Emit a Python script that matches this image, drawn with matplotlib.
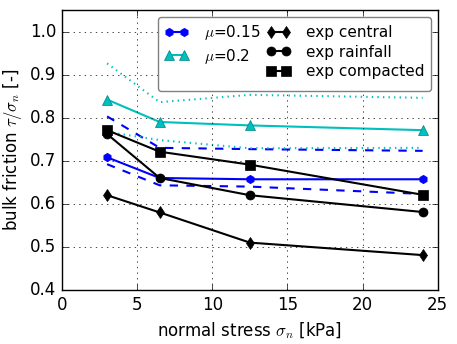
import matplotlib as mpl
mpl.use("Agg")
import matplotlib.pyplot as plt

plt.style.use('classic')

# normal stress [kPa]
sigma = [3, 6.5, 12.5, 24]

# simulations
mu015 = [0.708, 0.660, 0.657, 0.657]
mu015_lo = [0.692, 0.643, 0.640, 0.623]
mu015_hi = [0.803, 0.730, 0.727, 0.723]
mu02 = [0.842, 0.790, 0.782, 0.771]
mu02_lo = [0.767, 0.748, 0.729, 0.730]
mu02_hi = [0.926, 0.836, 0.853, 0.846]

# experiments
exp_central = [0.620, 0.580, 0.510, 0.481]
exp_rainfall = [0.762, 0.660, 0.620, 0.581]
exp_compacted = [0.771, 0.721, 0.691, 0.621]

fig = plt.figure(figsize=(4.57, 3.44), dpi=100)
fig.patch.set_facecolor('white')
ax = fig.add_axes([0.1357, 0.157, 0.822, 0.814])

# envelopes
ax.plot(sigma, mu015_lo, 'b--', lw=1.5)
ax.plot(sigma, mu015_hi, 'b--', lw=1.5)
ax.plot(sigma, mu02_lo, 'c:', lw=1.5)
ax.plot(sigma, mu02_hi, 'c:', lw=1.5)

h1, = ax.plot(sigma, mu015, 'b-', marker='h', ms=6, mec='b', lw=1.5)
h2, = ax.plot(sigma, mu02, 'c-', marker='^', ms=7, mec='teal', lw=1.5)
h3, = ax.plot(sigma, exp_central, 'k-', marker='d', ms=6.5, lw=1.5)
h4, = ax.plot(sigma, exp_rainfall, 'k-', marker='o', ms=6.5, lw=1.5)
h5, = ax.plot(sigma, exp_compacted, 'k-', marker='s', ms=6.5, lw=1.5)

ax.set_xlim(0, 25)
ax.set_ylim(0.4, 1.05)
ax.set_yticks([0.4, 0.5, 0.6, 0.7, 0.8, 0.9, 1.0])
ax.grid(True)
ax.tick_params(labelsize=12)

ax.set_xlabel(r'normal stress $\sigma_n$ [kPa]', fontsize=12)
ax.set_ylabel(r'bulk friction $\tau/\sigma_n$ [-]', fontsize=12)
ax.yaxis.set_label_coords(-0.1, 0.5)

blank, = ax.plot([], [], ' ')
leg = ax.legend([h1, h2, blank, h3, h4, h5],
                [r'$\mu$=0.15', r'$\mu$=0.2', '', 'exp central', 'exp rainfall', 'exp compacted'],
                ncol=2, loc='upper right', fontsize=11, numpoints=2,
                fancybox=True, handlelength=1.6, handletextpad=1.0,
                columnspacing=0.4, borderaxespad=0.45, labelspacing=0.3)
leg.get_frame().set_edgecolor('0.5')

fig.savefig('out.png', dpi=100, facecolor='white')
